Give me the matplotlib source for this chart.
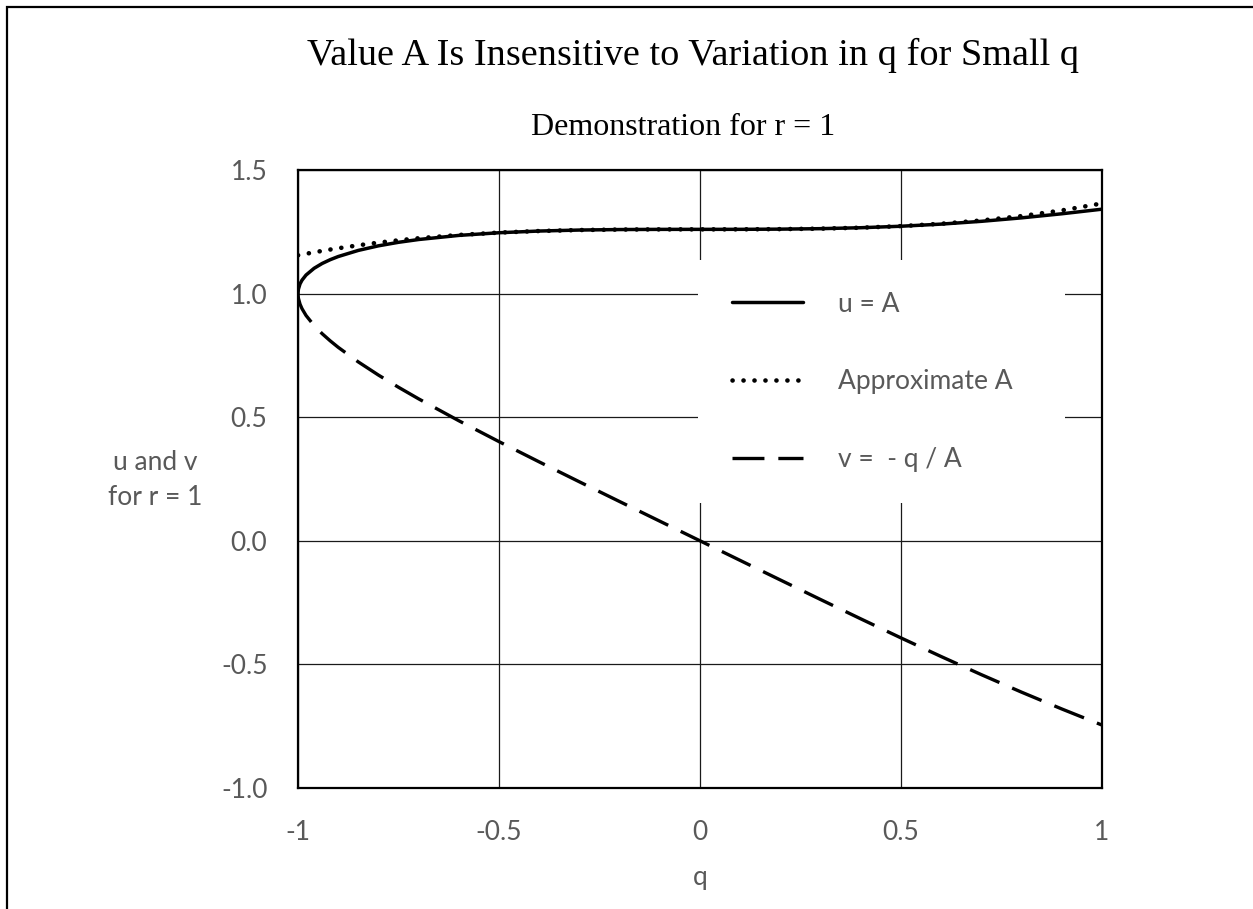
import matplotlib
matplotlib.use("Agg")
import matplotlib.pyplot as plt
from matplotlib.patches import Rectangle

# ---- data ----
q = [-1.0, -0.999, -0.995, -0.99, -0.98, -0.96, -0.94, -0.92, -0.9, -0.85,
     -0.8, -0.75, -0.7, -0.6, -0.5, -0.4, -0.3, -0.2, -0.1, 0.0,
     0.1, 0.2, 0.3, 0.4, 0.5, 0.6, 0.7, 0.8, 0.9, 1.0]
u_exact = [1.0, 1.0179, 1.0392, 1.0544, 1.0751, 1.1023, 1.1218, 1.1371, 1.1499, 1.1747,
           1.1932, 1.2075, 1.2188, 1.2354, 1.2462, 1.2531, 1.2571, 1.2591, 1.2598, 1.2599,
           1.2600, 1.2608, 1.2627, 1.2665, 1.2725, 1.2811, 1.2924, 1.3064, 1.3229, 1.3415]
u_approx = [1.1549, 1.1552, 1.1565, 1.1580, 1.1611, 1.1670, 1.1727, 1.1782, 1.1834, 1.1954,
            1.2062, 1.2156, 1.2239, 1.2372, 1.2468, 1.2532, 1.2571, 1.2591, 1.2598, 1.2599,
            1.2600, 1.2608, 1.2628, 1.2666, 1.2730, 1.2826, 1.2959, 1.3137, 1.3365, 1.3649]
v_vals = [1.0, 0.9814, 0.9575, 0.9389, 0.9115, 0.8709, 0.8379, 0.8091, 0.7827, 0.7236,
          0.6705, 0.6211, 0.5743, 0.4857, 0.4012, 0.3192, 0.2386, 0.1588, 0.0794, 0.0,
          -0.0794, -0.1586, -0.2376, -0.3158, -0.3929, -0.4683, -0.5416, -0.6124, -0.6803, -0.7454]

x_ticks = [-1, -0.5, 0, 0.5, 1]
x_tick_labels = ["-1", "-0.5", "0", "0.5", "1"]
y_ticks = [-1.0, -0.5, 0.0, 0.5, 1.0, 1.5]
y_tick_labels = ["-1.0", "-0.5", "0.0", "0.5", "1.0", "1.5"]
series_labels = ["u = A", "Approximate A", "v =  - q / A"]

title = "Value A Is Insensitive to Variation in q for Small q"
subtitle = "Demonstration for r = 1"
x_label = "q"
y_label = "u and v\nfor r = 1"

# ---- figure ----
plt.rcParams["lines.scale_dashes"] = False
W, H = 1253, 909
fig = plt.figure(figsize=(W / 100, H / 100), dpi=100)
fig.patch.set_facecolor("white")

def fx(px):
    return px / W

def fy(py):
    return 1 - py / H

# outer chart border (extends beyond the right and bottom edge)
fig.patches.append(Rectangle((fx(7), fy(1000)), fx(1400), fy(7) - fy(1000),
                             transform=fig.transFigure, fill=False,
                             edgecolor="black", linewidth=1.6, zorder=0))

L, R, T, B = 298, 1102, 170, 788
ax = fig.add_axes([fx(L), fy(B), fx(R - L), fy(T) - fy(B)])

tick_font = "Lato"
gray = "#595959"

ax.plot(q, u_exact, color="black", linewidth=2.5, solid_capstyle="round",
        label=series_labels[0], zorder=3)
ax.plot(q, u_approx, color="black", linewidth=3.3, linestyle=(0, (0.1, 7.8)),
        dash_capstyle="round", label=series_labels[1], zorder=3)
ax.plot(q, v_vals, color="black", linewidth=2.4, linestyle=(0, (23, 10)),
        dash_capstyle="butt", label=series_labels[2], zorder=3)

ax.set_xlim(-1, 1)
ax.set_ylim(-1, 1.5)
ax.set_xticks(x_ticks)
ax.set_xticklabels(x_tick_labels)
ax.set_yticks(y_ticks)
ax.set_yticklabels(y_tick_labels)
ax.tick_params(length=0, labelsize=19, labelcolor=gray)
ax.tick_params(axis="x", pad=23)
ax.tick_params(axis="y", pad=22)
for lab in ax.get_xticklabels() + ax.get_yticklabels():
    lab.set_fontfamily(tick_font)

ax.grid(True, color="#1a1a1a", linewidth=0.9)
ax.set_axisbelow(True)
for s in ax.spines.values():
    s.set_linewidth(1.6)
    s.set_color("black")

# white legend area covering the gridlines
ax.add_patch(Rectangle(((698 - L) / (R - L), 1 - (503 - T) / (B - T)),
                       (1065 - 698) / (R - L), (503 - 260) / (B - T),
                       transform=ax.transAxes, facecolor="white",
                       edgecolor="none", zorder=1))

leg = ax.legend(loc="center left",
                bbox_to_anchor=((732 - L) / (R - L), 1 - (382 - T) / (B - T)),
                frameon=False, borderpad=0, borderaxespad=0,
                handlelength=2.7, handletextpad=1.3, labelspacing=2.0,
                prop={"family": tick_font, "size": 19})
for t in leg.get_texts():
    t.set_color(gray)

# titles and axis labels
fig.text(fx(693), fy(65), title, ha="center", va="baseline",
         family="Liberation Serif", fontsize=27.5, color="black")
fig.text(fx(683), fy(135), subtitle, ha="center", va="baseline",
         family="Liberation Serif", fontsize=23, color="black")
fig.text(fx(700), fy(885), x_label, ha="center", va="baseline",
         family=tick_font, fontsize=19, color=gray)
fig.text(fx(155), fy(480), y_label, ha="center", va="center",
         multialignment="center", linespacing=1.5,
         family=tick_font, fontsize=19, color=gray)

fig.savefig("out.png", dpi=100, facecolor="white")
